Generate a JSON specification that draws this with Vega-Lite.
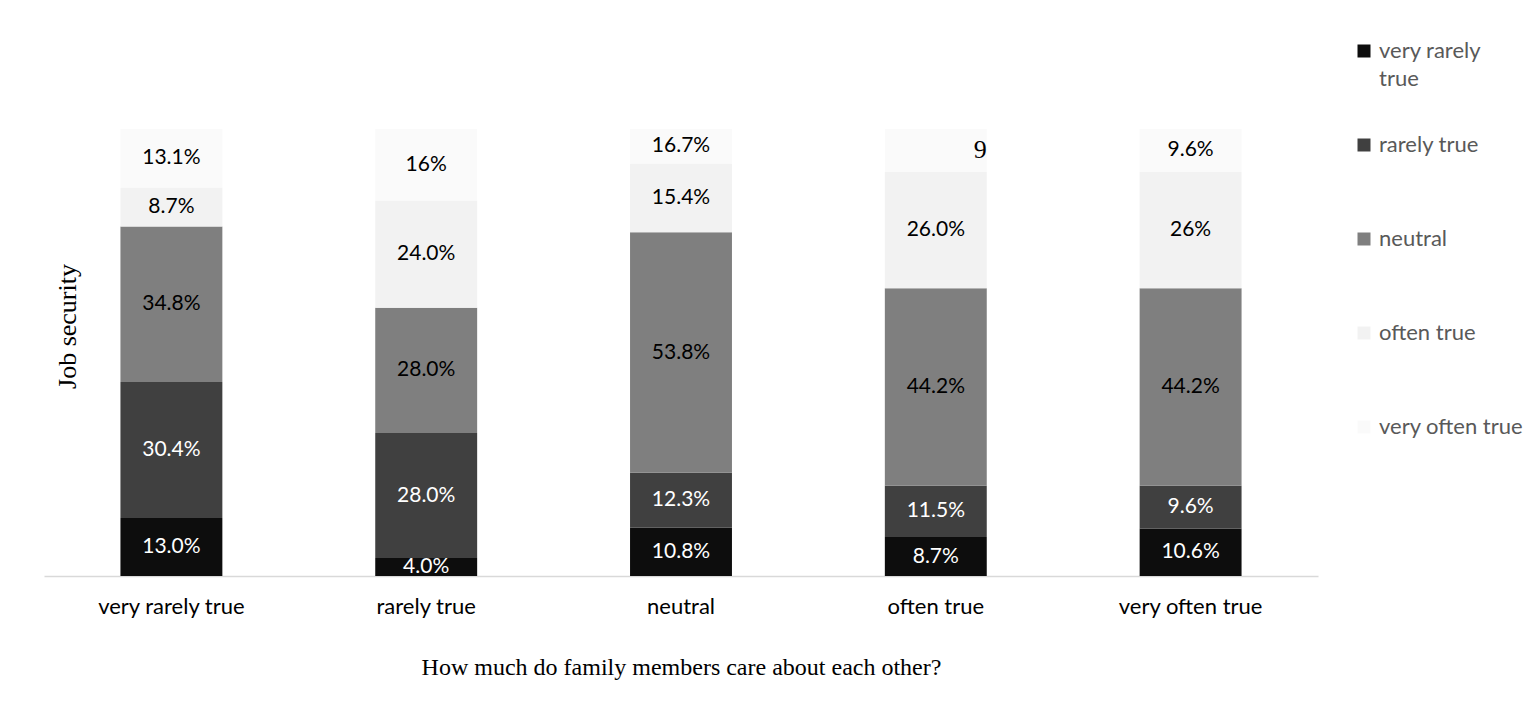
{
  "$schema": "https://vega.github.io/schema/vega-lite/v6.json",
  "autosize": "none",
  "width": 1274,
  "height": 447,
  "padding": {"left": 44, "top": 129, "right": 209, "bottom": 143},
  "background": "white",
  "config": {
    "view": {"stroke": null},
    "style": {"guide-label": {"lineHeight": 28}}
  },
  "data": {
    "values": [
      {"cat": "very rarely true", "resp": "very rarely true", "order": 1, "value": 13.0, "label": "13.0%"},
      {"cat": "very rarely true", "resp": "rarely true", "order": 2, "value": 30.4, "label": "30.4%"},
      {"cat": "very rarely true", "resp": "neutral", "order": 3, "value": 34.8, "label": "34.8%"},
      {"cat": "very rarely true", "resp": "often true", "order": 4, "value": 8.7, "label": "8.7%"},
      {"cat": "very rarely true", "resp": "very often true", "order": 5, "value": 13.1, "label": "13.1%"},
      {"cat": "rarely true", "resp": "very rarely true", "order": 1, "value": 4.0, "label": "4.0%"},
      {"cat": "rarely true", "resp": "rarely true", "order": 2, "value": 28.0, "label": "28.0%"},
      {"cat": "rarely true", "resp": "neutral", "order": 3, "value": 28.0, "label": "28.0%"},
      {"cat": "rarely true", "resp": "often true", "order": 4, "value": 24.0, "label": "24.0%"},
      {"cat": "rarely true", "resp": "very often true", "order": 5, "value": 16.0, "label": "16%"},
      {"cat": "neutral", "resp": "very rarely true", "order": 1, "value": 10.8, "label": "10.8%"},
      {"cat": "neutral", "resp": "rarely true", "order": 2, "value": 12.3, "label": "12.3%"},
      {"cat": "neutral", "resp": "neutral", "order": 3, "value": 53.8, "label": "53.8%"},
      {"cat": "neutral", "resp": "often true", "order": 4, "value": 15.4, "label": "15.4%"},
      {"cat": "neutral", "resp": "very often true", "order": 5, "value": 7.7, "label": "16.7%"},
      {"cat": "often true", "resp": "very rarely true", "order": 1, "value": 8.7, "label": "8.7%"},
      {"cat": "often true", "resp": "rarely true", "order": 2, "value": 11.5, "label": "11.5%"},
      {"cat": "often true", "resp": "neutral", "order": 3, "value": 44.2, "label": "44.2%"},
      {"cat": "often true", "resp": "often true", "order": 4, "value": 26.0, "label": "26.0%"},
      {"cat": "often true", "resp": "very often true", "order": 5, "value": 9.6, "label": "9"},
      {"cat": "very often true", "resp": "very rarely true", "order": 1, "value": 10.6, "label": "10.6%"},
      {"cat": "very often true", "resp": "rarely true", "order": 2, "value": 9.6, "label": "9.6%"},
      {"cat": "very often true", "resp": "neutral", "order": 3, "value": 44.2, "label": "44.2%"},
      {"cat": "very often true", "resp": "often true", "order": 4, "value": 26.0, "label": "26%"},
      {"cat": "very often true", "resp": "very often true", "order": 5, "value": 9.6, "label": "9.6%"}
    ]
  },
  "encoding": {
    "x": {
      "field": "cat",
      "type": "nominal",
      "sort": ["very rarely true", "rarely true", "neutral", "often true", "very often true"],
      "scale": {"paddingInner": 0.6, "paddingOuter": 0.3},
      "axis": {
        "title": "How much do family members care about each other?",
        "titleFont": "Liberation Serif",
        "titleFontSize": 24,
        "titleFontWeight": "normal",
        "titleColor": "#000000",
        "titlePadding": 38,
        "labelAngle": 0,
        "labelFont": "Lato",
        "labelFontSize": 22,
        "labelColor": "#000000",
        "labelPadding": 20,
        "ticks": false,
        "domainColor": "#d9d9d9",
        "domainWidth": 1.5
      }
    }
  },
  "layer": [
    {
      "mark": {"type": "bar"},
      "encoding": {
        "y": {
          "field": "value",
          "type": "quantitative",
          "stack": "zero",
          "scale": {"domain": [0, 100], "nice": false},
          "axis": {
            "title": "Job security",
            "titleFont": "Liberation Serif",
            "titleFontSize": 26,
            "titleFontWeight": "normal",
            "titleColor": "#000000",
            "titleAngle": -90,
            "titleBaseline": "alphabetic",
            "titleAlign": "center",
            "titleX": 31,
            "titleY": 197,
            "labels": false,
            "ticks": false,
            "domain": false,
            "grid": false
          }
        },
        "order": {"field": "order", "type": "quantitative"},
        "color": {
          "field": "resp",
          "type": "nominal",
          "scale": {
            "domain": ["very rarely true", "rarely true", "neutral", "often true", "very often true"],
            "range": ["#0d0d0d", "#404040", "#7f7f7f", "#f2f2f2", "#fafafa"]
          },
          "legend": {
            "title": null,
            "orient": "none",
            "legendX": 1309,
            "legendY": -89,
            "padding": 0,
            "symbolType": "square",
            "symbolSize": 169,
            "symbolStrokeWidth": 0,
            "labelFont": "Lato",
            "labelFontSize": 22,
            "labelColor": "#595959",
            "labelOffset": 4,
            "labelLimit": 300,
            "rowPadding": 44,
            "labelExpr": "datum.label == 'very rarely true' ? ['very rarely', 'true'] : [datum.label, '']"
          }
        }
      }
    },
    {
      "transform": [
        {"stack": "value", "groupby": ["cat"], "sort": [{"field": "order"}], "as": ["v0", "v1"]},
        {"calculate": "(datum.v0 + datum.v1) / 2", "as": "mid"},
        {"filter": "datum.label != '9'"}
      ],
      "mark": {"type": "text", "font": "Lato", "fontSize": 21, "baseline": "middle"},
      "encoding": {
        "y": {"field": "mid", "type": "quantitative"},
        "text": {"field": "label"},
        "color": {"condition": {"test": "datum.order <= 2", "value": "#ffffff"}, "value": "#000000"}
      }
    },
    {
      "transform": [
        {"stack": "value", "groupby": ["cat"], "sort": [{"field": "order"}], "as": ["v0", "v1"]},
        {"calculate": "(datum.v0 + datum.v1) / 2", "as": "mid"},
        {"filter": "datum.label == '9'"}
      ],
      "mark": {"type": "text", "font": "Liberation Serif", "fontSize": 26, "baseline": "middle", "align": "right"},
      "encoding": {
        "x": {"field": "cat", "type": "nominal", "sort": ["very rarely true", "rarely true", "neutral", "often true", "very often true"], "bandPosition": 1},
        "y": {"field": "mid", "type": "quantitative"},
        "text": {"field": "label"},
        "color": {"value": "#000000"}
      }
    }
  ]
}
